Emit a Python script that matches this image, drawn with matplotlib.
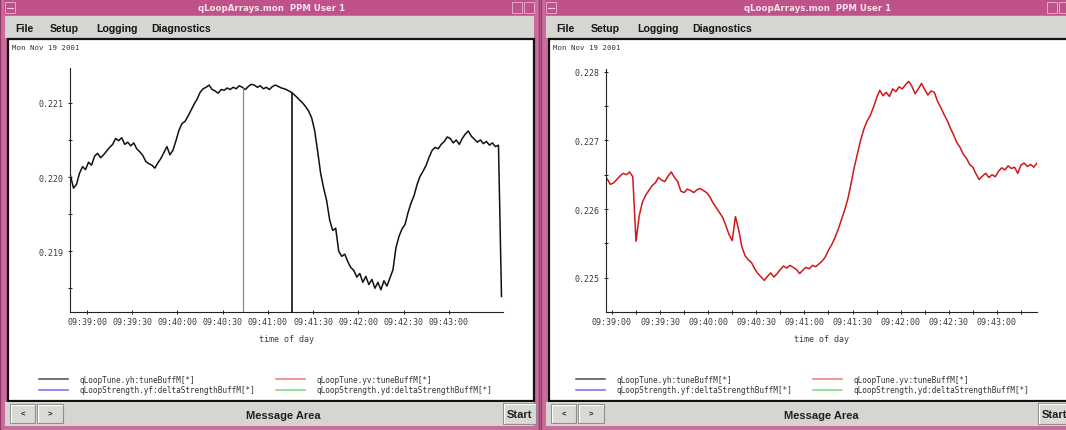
import numpy as np
import matplotlib
matplotlib.use('Agg')
import matplotlib.pyplot as plt
from matplotlib.patches import Rectangle
from matplotlib.lines import Line2D

# ---- data -------------------------------------------------------------
# sample times are seconds after 09:39:00, one reading every 2 s
yh_t = np.arange(-11, 276, 2)
yh_tune = [
    0.22002, 0.21985, 0.21990, 0.22005, 0.22014, 0.22010, 0.22020, 0.22016, 0.22028, 0.22032,
    0.22026, 0.22030, 0.22035, 0.22040, 0.22044, 0.22052, 0.22049, 0.22053, 0.22044, 0.22047,
    0.22042, 0.22046, 0.22038, 0.22034, 0.22029, 0.22021, 0.22018, 0.22016, 0.22012, 0.22019,
    0.22025, 0.22033, 0.22041, 0.22030, 0.22036, 0.22049, 0.22063, 0.22072, 0.22075, 0.22082,
    0.22090, 0.22098, 0.22105, 0.22114, 0.22119, 0.22121, 0.22124, 0.22118, 0.22116, 0.22113,
    0.22118, 0.22117, 0.22120, 0.22118, 0.22121, 0.22119, 0.22123, 0.22121, 0.22118, 0.22122,
    0.22125, 0.22124, 0.22121, 0.22123, 0.22119, 0.22121, 0.22118, 0.22122, 0.22124, 0.22122,
    0.22120, 0.22119, 0.22117, 0.22115, 0.22112, 0.22108, 0.22104, 0.22100, 0.22095, 0.22089,
    0.22080, 0.22063, 0.22035, 0.22005, 0.21985, 0.21968, 0.21942, 0.21928, 0.21931, 0.21900,
    0.21893, 0.21896, 0.21886, 0.21878, 0.21874, 0.21865, 0.21870, 0.21858, 0.21866, 0.21855,
    0.21862, 0.21850, 0.21858, 0.21848, 0.21860, 0.21853, 0.21864, 0.21875, 0.21905, 0.21920,
    0.21930, 0.21936, 0.21952, 0.21965, 0.21975, 0.21990, 0.22001, 0.22008, 0.22016, 0.22027,
    0.22036, 0.22040, 0.22038, 0.22044, 0.22048, 0.22054, 0.22052, 0.22046, 0.22050, 0.22044,
    0.22052, 0.22058, 0.22062, 0.22055, 0.22051, 0.22047, 0.22050, 0.22045, 0.22048, 0.22043,
    0.22046, 0.22041, 0.22043, 0.21839,
]
# buffer dropouts in the yh trace (time, last good value)
yh_dropout_t = [103.4, 135.9]
yh_dropout_top = [0.22122, 0.22115]

yv_t = np.arange(-3, 266, 2)
yv_tune = [
    0.22644, 0.22636, 0.22638, 0.22643, 0.22648, 0.22652, 0.22650, 0.22654, 0.22647, 0.22553,
    0.22590, 0.22610, 0.22620, 0.22627, 0.22634, 0.22638, 0.22646, 0.22642, 0.22640, 0.22648,
    0.22654, 0.22646, 0.22640, 0.22626, 0.22624, 0.22629, 0.22627, 0.22624, 0.22628, 0.22630,
    0.22627, 0.22624, 0.22618, 0.22609, 0.22602, 0.22595, 0.22588, 0.22576, 0.22563, 0.22554,
    0.22589, 0.22570, 0.22545, 0.22532, 0.22526, 0.22522, 0.22513, 0.22506, 0.22501, 0.22496,
    0.22502, 0.22507, 0.22501, 0.22506, 0.22512, 0.22517, 0.22514, 0.22518, 0.22515, 0.22512,
    0.22506, 0.22511, 0.22515, 0.22513, 0.22518, 0.22516, 0.22520, 0.22524, 0.22530, 0.22540,
    0.22548, 0.22558, 0.22570, 0.22584, 0.22598, 0.22614, 0.22636, 0.22660, 0.22680, 0.22700,
    0.22716, 0.22728, 0.22736, 0.22748, 0.22762, 0.22773, 0.22765, 0.22770, 0.22764, 0.22775,
    0.22771, 0.22778, 0.22775, 0.22781, 0.22786, 0.22779, 0.22768, 0.22775, 0.22783, 0.22774,
    0.22766, 0.22772, 0.22770, 0.22757, 0.22748, 0.22738, 0.22729, 0.22718, 0.22708, 0.22697,
    0.22690, 0.22680, 0.22674, 0.22665, 0.22661, 0.22651, 0.22643, 0.22648, 0.22652, 0.22646,
    0.22650, 0.22647, 0.22655, 0.22660, 0.22657, 0.22663, 0.22659, 0.22661, 0.22652, 0.22664,
    0.22667, 0.22662, 0.22665, 0.22661, 0.22667,
]

time_ticks = [0, 30, 60, 90, 120, 150, 180, 210, 240]
time_labels = ['09:39:00', '09:39:30', '09:40:00', '09:40:30', '09:41:00',
               '09:41:30', '09:42:00', '09:42:30', '09:43:00']
time_minor = [15, 45, 75, 105, 135, 165, 195, 225, 255]

yh_ticks = [0.219, 0.220, 0.221]
yh_minor = [0.2185, 0.2195, 0.2205]
yv_ticks = [0.225, 0.226, 0.227, 0.228]
yv_minor = [0.2255, 0.2265, 0.2275]

series_names = ['qLoopTune.yh:tuneBuffM[*]', 'qLoopStrength.yf:deltaStrengthBuffM[*]',
                'qLoopTune.yv:tuneBuffM[*]', 'qLoopStrength.yd:deltaStrengthBuffM[*]']

menu_items = ['File', 'Setup', 'Logging', 'Diagnostics']
window_title = 'qLoopArrays.mon  PPM User 1'
date_stamp = 'Mon Nov 19 2001'

# ---- styling ----------------------------------------------------------
W, H = 1066, 431
FRAME = '#cc6b9c'
TITLE = '#bf5389'
GREY = '#d5d5d1'
MONO = 'DejaVu Sans Mono'
UI = 'Liberation Sans'
legend_colors = ['#4a4a4a', '#6b6bef', '#ef7474', '#74dc74']

fig = plt.figure(figsize=(W / 100, H / 100), dpi=100, facecolor=FRAME)
bg = fig.add_axes([0, 0, 1, 1], zorder=0)
bg.set_xlim(0, W)
bg.set_ylim(H, 0)
bg.axis('off')


def button(x, y, w, h, label=None, size=6):
    bg.add_patch(Rectangle((x, y), w, h, fc='#d9d9d5', ec='#8e8e8a', lw=0.8))
    bg.plot([x + 0.8, x + 0.8, x + w - 0.8], [y + h - 0.8, y + 0.8, y + 0.8], color='white', lw=0.8)
    if label:
        bg.text(x + w / 2, y + h / 2 + 0.5, label, ha='center', va='center',
                fontsize=size, fontweight='bold', family=UI, color='#202020')


def draw_window(x0, w, title_x, msg_x):
    bg.add_patch(Rectangle((x0, -1), w, H + 2, fc=FRAME, ec='#8d3c65', lw=1.0))
    bg.add_patch(Rectangle((x0 + 4, 1), w - 8, 15, fc=TITLE, ec='none'))
    for bx in (x0 + 5, x0 + w - 27, x0 + w - 15):
        bg.add_patch(Rectangle((bx, 3), 10, 11, fc=TITLE, ec='#e6a9c6', lw=0.7))
    bg.plot([x0 + 7, x0 + 13], [8.5, 8.5], color='#f0d0e0', lw=0.8)
    bg.text(title_x, 8.5, window_title, ha='center', va='center', fontsize=6.2,
            fontweight='bold', color='#f6e2ec', family='DejaVu Sans')

    bg.add_patch(Rectangle((x0 + 5, 17), w - 10, 22, fc=GREY, ec='none'))
    for name, dx in zip(menu_items, [15, 50, 96, 151]):
        bg.text(x0 + dx, 28.5, name, ha='left', va='center', fontsize=7.6,
                fontweight='bold', family=UI, color='#151515')

    bg.add_patch(Rectangle((x0 + 8, 40), w - 13, 362, fc='white', ec='#111111', lw=1.6))
    bg.text(x0 + 12, 48, date_stamp, ha='left', va='center', fontsize=5.3,
            family=MONO, color='#333333')

    bg.add_patch(Rectangle((x0 + 5, 403), w - 10, 24, fc=GREY, ec='none'))
    button(x0 + 10, 405, 25, 19, '<', 5.5)
    button(x0 + 37, 405, 26, 19, '>', 5.5)
    button(x0 + w - 36, 404, 33, 21, 'Start', 8)
    bg.text(msg_x, 416, 'Message Area', ha='center', va='center', fontsize=8,
            fontweight='bold', family=UI, color='#202020')


draw_window(0, 539, 272, 283)
draw_window(541, 533, 818, 821)


def px_axes(left, right, top, bottom):
    return fig.add_axes([left / W, 1 - bottom / H, (right - left) / W, (bottom - top) / H], zorder=2)


def style_axes(ax, yticks, yminor, xminor):
    ax.set_facecolor('none')
    for side in ('top', 'right'):
        ax.spines[side].set_visible(False)
    for side in ('left', 'bottom'):
        ax.spines[side].set_color('#222222')
        ax.spines[side].set_linewidth(0.8)
    ax.set_xticks(time_ticks)
    ax.set_xticklabels(time_labels)
    if xminor:
        ax.set_xticks(xminor, minor=True)
    ax.set_yticks(yticks)
    ax.set_yticklabels([f'{v:.3f}' for v in yticks])
    ax.set_yticks(yminor, minor=True)
    ax.tick_params(which='both', direction='inout', length=3, width=0.7, color='#222222')
    ax.tick_params(axis='x', pad=2)
    ax.tick_params(axis='y', pad=3)
    for lab in ax.get_xticklabels() + ax.get_yticklabels():
        lab.set_family(MONO)
        lab.set_fontsize(6)
        lab.set_color('#3a3a3a')
    ax.set_xlabel('time of day', family=MONO, fontsize=6, color='#3a3a3a', labelpad=6)


def add_legend(ax, x_left):
    handles = [Line2D([], [], color=c, lw=1.1, label=n) for c, n in zip(legend_colors, series_names)]
    ax.legend(handles=handles, loc='upper left', bbox_to_anchor=(x_left / W, 1 - 372 / H),
              bbox_transform=fig.transFigure, ncol=2, frameon=False, borderpad=0,
              prop={'family': MONO, 'size': 5.6}, handlelength=3.7, handletextpad=1.5,
              columnspacing=2.7, labelspacing=0.2, labelcolor='#333333')


# left window: horizontal tune
ax1 = px_axes(70, 503, 69, 313)
ax1.plot(yh_t, yh_tune, color='#111111', lw=1.1)
ax1.vlines(yh_dropout_t, 0.21818, yh_dropout_top, colors=['#8a8a8a', '#111111'], lw=[0.9, 1.2])
ax1.set_xlim(-11.3, 276)
ax1.set_ylim(0.21818, 0.22147)
style_axes(ax1, yh_ticks, yh_minor, None)
add_legend(ax1, 35)

# right window: vertical tune
ax2 = px_axes(606, 1037, 70, 313)
ax2.plot(yv_t, yv_tune, color='#d01818', lw=1.1)
ax2.set_xlim(-3.7, 265)
ax2.set_ylim(0.22450, 0.22804)
style_axes(ax2, yv_ticks, yv_minor, time_minor)
add_legend(ax2, 572)

fig.savefig('out.png', dpi=100, facecolor=fig.get_facecolor())
